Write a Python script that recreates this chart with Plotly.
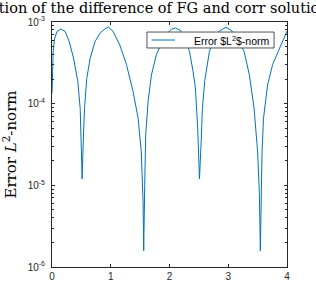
import plotly.graph_objects as go

x_vals = [0.000, 0.009, 0.020, 0.043, 0.082, 0.150, 0.224, 0.292, 0.366, 0.440, 0.480, 0.500, 0.513,
          0.530, 0.553, 0.592, 0.650, 0.734, 0.820, 0.904, 0.960, 1.040, 1.153, 1.267, 1.380, 1.466,
          1.520, 1.550, 1.561, 1.578, 1.595, 1.636, 1.692, 1.777, 1.862, 1.950, 2.030, 2.100, 2.180,
          2.260, 2.340, 2.400, 2.440, 2.480, 2.510, 2.540, 2.560, 2.600, 2.680, 2.760, 2.850, 2.960,
          3.050, 3.150, 3.270, 3.360, 3.440, 3.500, 3.530, 3.546, 3.560, 3.575, 3.600, 3.670, 3.755,
          3.870, 4.000]
err_vals = [1.34e-4, 2.72e-4, 4.37e-4, 6.17e-4, 7.59e-4, 8.20e-4, 7.67e-4, 5.79e-4, 3.63e-4, 1.86e-4,
            8.71e-5, 2.63e-5, 1.20e-5, 3.09e-5, 8.71e-5, 2.04e-4, 3.63e-4, 5.79e-4, 7.33e-4, 8.28e-4,
            8.67e-4, 7.67e-4, 5.25e-4, 3.02e-4, 1.41e-4, 6.61e-5, 2.57e-5, 6.31e-6, 1.58e-6, 1.00e-5,
            4.17e-5, 1.07e-4, 2.24e-4, 3.98e-4, 5.50e-4, 7.08e-4, 8.13e-4, 8.43e-4, 7.94e-4, 6.46e-4,
            4.37e-4, 2.51e-4, 1.58e-4, 5.01e-5, 1.20e-5, 3.55e-5, 8.71e-5, 1.91e-4, 4.37e-4, 6.31e-4,
            7.76e-4, 8.61e-4, 7.94e-4, 6.31e-4, 4.37e-4, 2.24e-4, 8.71e-5, 2.57e-5, 7.94e-6, 1.58e-6,
            1.00e-5, 2.51e-5, 6.61e-5, 1.70e-4, 3.02e-4, 4.79e-4, 7.76e-4]

x_ticks = [0, 1, 2, 3, 4]
y_ticks = [1e-6, 1e-5, 1e-4, 1e-3]
y_ticktext = ["10<sup>-6</sup>", "10<sup>-5</sup>", "10<sup>-4</sup>", "10<sup>-3</sup>"]
y_minor_ticks = [k * d for d in (1e-6, 1e-5, 1e-4) for k in range(2, 10)]

title_text = "Evolution of the difference of FG and corr solution"
ylabel = "Error <i>L</i><sup>2</sup>-norm"
legend_name = "Error $L<sup>2</sup>$-norm"

axis_color = "#262626"
line_color = "#0072BD"
sans = "Liberation Sans, Arial, sans-serif"
serif = "DejaVu Serif, serif"

fig = go.Figure()
fig.add_trace(go.Scatter(x=x_vals, y=err_vals, mode="lines", name=legend_name,
                         showlegend=False, line=dict(color=line_color, width=1)))

# compact MATLAB-style legend box (paper coordinates)
leg_x0, leg_x1, leg_y0, leg_y1 = 0.404, 0.945, 0.894, 0.959
leg_mid = (leg_y0 + leg_y1) / 2
fig.add_shape(type="rect", xref="paper", yref="paper", x0=leg_x0, x1=leg_x1, y0=leg_y0, y1=leg_y1,
              fillcolor="white", line=dict(color=axis_color, width=0.8), layer="above")
fig.add_shape(type="line", xref="paper", yref="paper", x0=leg_x0 + 0.02, x1=leg_x0 + 0.119,
              y0=leg_mid, y1=leg_mid, line=dict(color=line_color, width=1), layer="above")
fig.add_annotation(text=legend_name, xref="paper", yref="paper", x=leg_x0 + 0.19, y=leg_mid,
                   xanchor="left", yanchor="middle", showarrow=False,
                   font=dict(family=sans, size=10.5, color="black"))

fig.update_layout(
    width=316, height=300,
    margin=dict(l=52, r=29, t=22, b=33, pad=0, autoexpand=False),
    paper_bgcolor="white", plot_bgcolor="white",
    title=dict(text=title_text, x=0.387, xanchor="center", xref="paper", y=0.99, yanchor="top",
               automargin=False,
               font=dict(family=serif, size=14.5, color="black")),
    showlegend=False,
    xaxis=dict(range=[0, 4], tickvals=x_ticks, ticks="inside", ticklen=3, automargin=False,
               showgrid=False, zeroline=False, showline=True, linecolor=axis_color,
               linewidth=1, mirror="allticks", tickcolor=axis_color,
               tickfont=dict(family=sans, size=10, color=axis_color)),
    yaxis=dict(type="log", range=[-6, -3], tickvals=y_ticks, ticktext=y_ticktext,
               ticks="inside", ticklen=3, automargin=False, ticklabelstandoff=4,
               showgrid=False, zeroline=False, showline=True,
               linecolor=axis_color, linewidth=1, mirror="allticks", tickcolor=axis_color,
               tickfont=dict(family=sans, size=10, color=axis_color),
               minor=dict(tickmode="array", tickvals=y_minor_ticks, ticks="inside", ticklen=2,
                          tickcolor=axis_color, showgrid=False),
               title=dict(text=ylabel, font=dict(family=serif, size=15, color="black"),
                          standoff=8)),
)

fig.write_html("out.html", config={"displayModeBar": False},
               post_script="document.body.style.margin='0';")
